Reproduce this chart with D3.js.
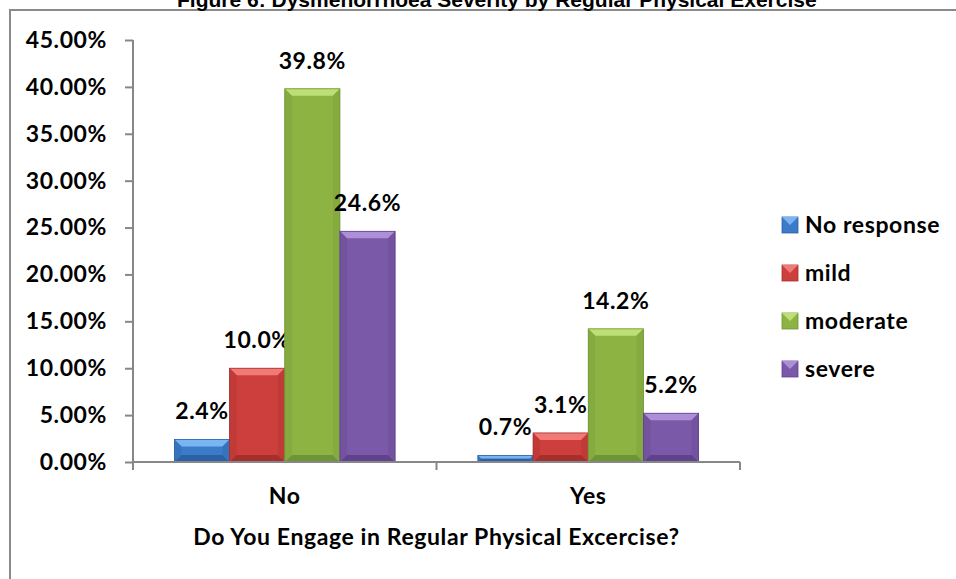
<!DOCTYPE html>
<html>
<head>
<meta charset="utf-8">
<script src="https://cdn.jsdelivr.net/npm/d3@7"></script>
<style>
  body { margin: 0; background: #fff; }
  svg { display: block; }
</style>
</head>
<body>
<svg id="chart"></svg>
<script>
// data
const categories = ['No', 'Yes'];
const seriesNames = ['No response', 'mild', 'moderate', 'severe'];
const noResponse = [2.4, 0.7];
const mild = [10.0, 3.1];
const moderate = [39.8, 14.2];
const severe = [24.6, 5.2];
const yTicks = [0, 5, 10, 15, 20, 25, 30, 35, 40, 45];

const seriesValues = [noResponse, mild, moderate, severe];

const palette = {
  'No response': { base: '#3b7bc8', top: '#79b5f2', bottom: '#2c62a5', side: '#3672bd' },
  'mild': { base: '#cc3f3c', top: '#f27a76', bottom: '#a52f2d', side: '#c03a38' },
  'moderate': { base: '#8db443', top: '#bddf74', bottom: '#6f9435', side: '#85aa3f' },
  'severe': { base: '#7b59a9', top: '#ad8fd8', bottom: '#5f418c', side: '#7353a0' }
};

const W = 956, H = 579;
const svg = d3.select('#chart').attr('width', W).attr('height', H);

const font = 'Lato, "Open Sans", sans-serif';
const fontSize = '23px';
const spacing = '0.6px';

// outer chart border
svg.append('rect')
  .attr('x', 10).attr('y', 10)
  .attr('width', W + 20).attr('height', H + 20)
  .attr('fill', 'none')
  .attr('stroke', '#8a8a8a')
  .attr('stroke-width', 2);

// title (top part sits above the page edge, as in the source)
svg.append('text')
  .attr('x', 177)
  .attr('y', 7)
  .style('font-family', '"Liberation Sans", Arial, sans-serif')
  .style('font-weight', 'bold')
  .style('font-size', '21px')
  .text('Figure 6: Dysmenorrhoea Severity by Regular Physical Exercise');

const plot = { left: 133, right: 740, top: 40, bottom: 462 };

const x0 = d3.scaleBand()
  .domain(categories)
  .range([plot.left, plot.right]);

const barW = x0.bandwidth() / (seriesNames.length + 1.5);
const x1 = d3.scaleBand()
  .domain(seriesNames)
  .range([barW * 0.75, x0.bandwidth() - barW * 0.75]);

const y = d3.scaleLinear()
  .domain([0, 45])
  .range([plot.bottom, plot.top]);

const axisColor = '#878787';

// y axis
const yAxis = svg.append('g')
  .attr('transform', `translate(${plot.left},0)`)
  .call(d3.axisLeft(y).tickValues(yTicks).tickSize(8).tickPadding(18)
    .tickFormat(d => d.toFixed(2) + '%'));
yAxis.select('.domain').attr('stroke', axisColor).attr('stroke-width', 2)
  .attr('d', `M0,${y(45)}V${plot.bottom + 8}`);
yAxis.selectAll('.tick line').attr('stroke', axisColor).attr('stroke-width', 2);
yAxis.selectAll('text')
  .style('font-family', font)
  .style('font-weight', 'bold')
  .style('font-size', fontSize)
  .style('letter-spacing', spacing)
  .attr('fill', '#000');

// bars
const groups = svg.append('g')
  .selectAll('g')
  .data(categories)
  .join('g')
  .attr('transform', c => `translate(${x0(c)},0)`);

groups.each(function (c, ci) {
  const g = d3.select(this);
  seriesNames.forEach((s, si) => {
    const v = seriesValues[si][ci];
    const xl = x1(s), xr = xl + x1.bandwidth();
    const yt = y(v), yb = y(0);
    const col = palette[s];
    const b = Math.min(7, (yb - yt) / 2);
    g.append('rect')
      .attr('x', xl).attr('y', yt)
      .attr('width', xr - xl).attr('height', yb - yt)
      .attr('fill', col.base);
    // bevels
    g.append('path')
      .attr('d', `M${xl},${yt}L${xr},${yt}L${xr - b},${yt + b}L${xl + b},${yt + b}Z`)
      .attr('fill', col.top);
    g.append('path')
      .attr('d', `M${xl},${yb}L${xr},${yb}L${xr - b},${yb - b}L${xl + b},${yb - b}Z`)
      .attr('fill', col.bottom);
    g.append('path')
      .attr('d', `M${xl},${yt}L${xl + b},${yt + b}L${xl + b},${yb - b}L${xl},${yb}Z`)
      .attr('fill', col.side);
    g.append('path')
      .attr('d', `M${xr},${yt}L${xr - b},${yt + b}L${xr - b},${yb - b}L${xr},${yb}Z`)
      .attr('fill', col.side);
    g.append('rect')
      .attr('x', xl).attr('y', yt)
      .attr('width', xr - xl).attr('height', yb - yt)
      .attr('fill', 'none')
      .attr('stroke', col.bottom)
      .attr('stroke-width', 0.8);
    g.append('text')
      .attr('x', (xl + xr) / 2)
      .attr('y', yt - 20)
      .attr('text-anchor', 'middle')
      .style('font-family', font)
      .style('font-weight', 'bold')
      .style('font-size', fontSize)
      .style('letter-spacing', spacing)
      .text(v.toFixed(1) + '%');
  });
});

// x axis
const xAxis = svg.append('g')
  .attr('transform', `translate(0,${plot.bottom})`);
xAxis.append('path')
  .attr('d', `M${plot.left},0H${plot.right}`)
  .attr('stroke', axisColor).attr('stroke-width', 2).attr('fill', 'none');
xAxis.selectAll('line')
  .data([plot.left, x0(categories[1]), plot.right])
  .join('line')
  .attr('x1', d => d).attr('x2', d => d)
  .attr('y1', 0).attr('y2', 8)
  .attr('stroke', axisColor).attr('stroke-width', 2);
xAxis.selectAll('text')
  .data(categories)
  .join('text')
  .attr('x', c => x0(c) + x0.bandwidth() / 2)
  .attr('y', 42)
  .attr('text-anchor', 'middle')
  .style('font-family', font)
  .style('font-weight', 'bold')
  .style('font-size', fontSize)
  .style('letter-spacing', spacing)
  .text(c => c);

// axis title
svg.append('text')
  .attr('x', (plot.left + plot.right) / 2)
  .attr('y', 545)
  .attr('text-anchor', 'middle')
  .style('font-family', font)
  .style('font-weight', 'bold')
  .style('font-size', fontSize)
  .style('letter-spacing', spacing)
  .text('Do You Engage in Regular Physical Excercise?');

// legend
const legend = svg.append('g')
  .selectAll('g')
  .data(seriesNames)
  .join('g')
  .attr('transform', (d, i) => `translate(782,${233 + i * 48})`);

legend.append('rect')
  .attr('x', 0).attr('y', -16)
  .attr('width', 16).attr('height', 16)
  .attr('fill', d => palette[d].base)
  .attr('stroke', d => palette[d].bottom)
  .attr('stroke-width', 0.8);
legend.append('path')
  .attr('d', 'M0,-16L16,-16L8,-8Z')
  .attr('fill', d => palette[d].top);
legend.append('text')
  .attr('x', 23)
  .attr('y', 0)
  .style('font-family', font)
  .style('font-weight', 'bold')
  .style('font-size', fontSize)
  .style('letter-spacing', spacing)
  .text(d => d);
</script>
</body>
</html>
